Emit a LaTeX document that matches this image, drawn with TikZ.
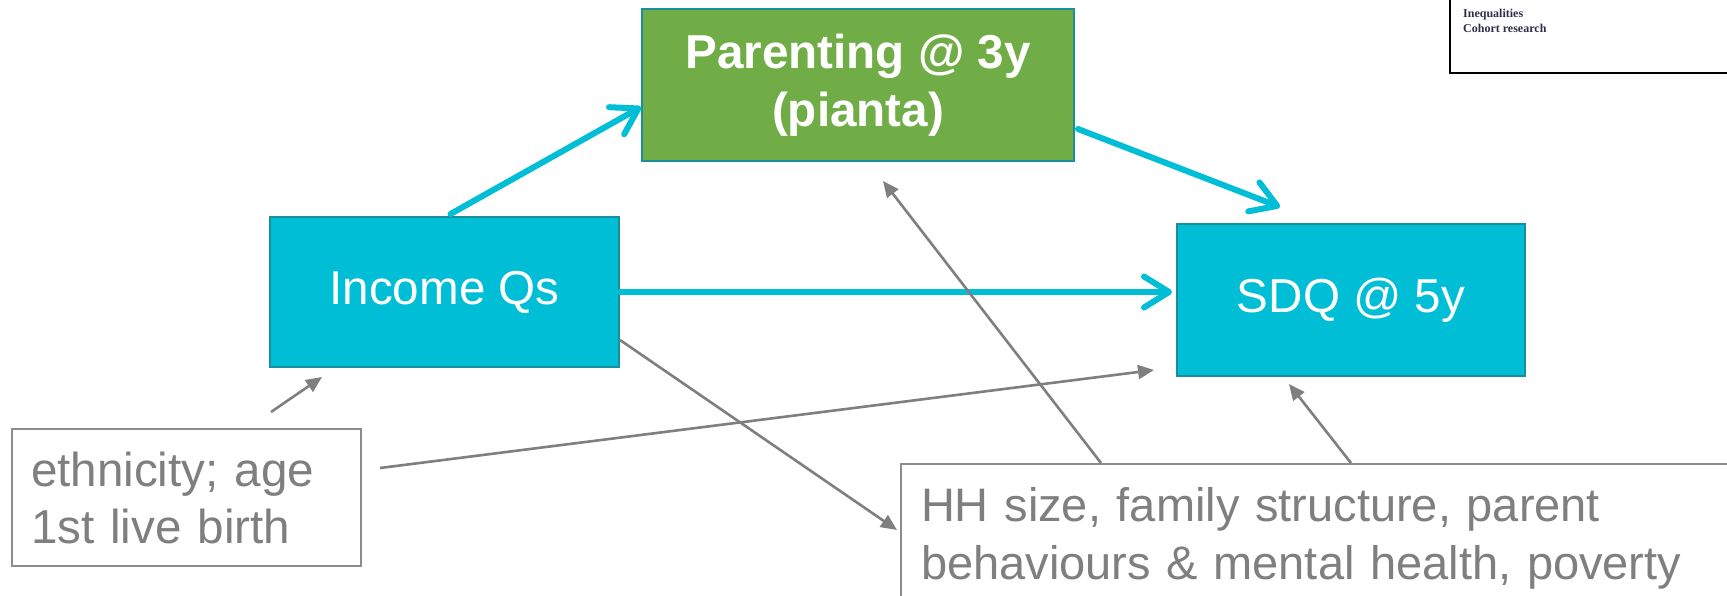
\documentclass[tikz,border=0pt]{standalone}
\usepackage{fontspec}
\setmainfont{Liberation Sans}
\newfontfamily\boxserif{Liberation Serif}
\usetikzlibrary{arrows.meta,calc}
\definecolor{cyfill}{HTML}{00BED5}
\definecolor{cyline}{HTML}{1A8F9C}
\definecolor{grfill}{HTML}{70AD47}
\definecolor{graytxt}{HTML}{7F7F7F}
\definecolor{grayline}{HTML}{8C8C8C}
\definecolor{navytxt}{HTML}{2E2E4A}
\tikzset{
  bigfont/.style={font=\fontsize{47.6}{57}\selectfont},
  mainbox/.style={draw=cyline, line width=2pt, inner sep=0pt, align=center, text=white, bigfont},
  notebox/.style={draw=grayline, line width=2pt, fill=white, inner ysep=0pt, align=left, text=graytxt, bigfont, anchor=north west},
  cyarrow/.style={draw=cyfill, line width=6pt, line cap=round,
    -{Straight Barb[length=25pt,width=31pt,line cap=round,line join=round]}},
  grarrow/.style={draw=graytxt, line width=2.6pt,
    -{Triangle[length=16pt,width=14pt]}}
}
\begin{document}
\begin{tikzpicture}[x=1pt,y=-1pt]
\useasboundingbox (0,0) rectangle (1727,595);
\clip (0,0) rectangle (1727,595);
\fill[white] (0,0) rectangle (1727,595);

% top-right box
\draw[black, line width=2pt] (1450,-10) rectangle (1745,73);
\node[font=\boxserif\bfseries\fontsize{12}{15}\selectfont, text=navytxt, anchor=base west, align=left, inner sep=0pt] (tr) at (1463,32) {Inequalities\\Cohort research};

% main nodes
\node[mainbox, fill=grfill, minimum width=432pt, minimum height=152pt, font=\bfseries\fontsize{47.6}{58}\selectfont] (par) at (858,85) {Parenting @ 3y\\(pianta)};
\node[mainbox, fill=cyfill, minimum width=349pt, minimum height=150pt] (inc) at (444.5,292) {Income Qs};
\node[mainbox, fill=cyfill, minimum width=348pt, minimum height=152pt] (sdq) at (1351,300) {SDQ @ 5y};

% note boxes
\node[notebox, minimum width=349pt, minimum height=137pt, text width=311pt, inner xsep=19pt] (eth) at (11,428) {ethnicity; age\\1st live birth};
\node[notebox, minimum width=860pt, minimum height=148pt, text width=820pt, inner xsep=20pt, font=\fontsize{47}{58}\selectfont] (hh) at (900,463) {HH size, family structure, parent\\behaviours \& mental health, poverty};

% cyan arrows
\draw[cyarrow] ($(inc.north)+(6,-2)$) -- ($(par.north west)+(0,99)$);
\draw[cyarrow] ($(par.north east)+(3,121)$) -- ($(sdq.north)+(-71,-16)$);
\draw[cyarrow] (inc.east) -- ($(sdq.west |- inc.east)+(-4,0)$);

% gray arrows
\coordinate (e1) at (271,412);
\draw[grarrow] (e1) -- ($(inc.south west)+(53,9)$);
\draw[grarrow] ($(eth.north east)+(18,40)$) -- ($(sdq.south west)+(-22,-7)$);
\draw[grarrow] ($(inc.south east)+(0,-28)$) -- ($(hh.north west)+(-3,67)$);
\draw[grarrow] ($(hh.north west)+(201,0)$) -- ($(par.south west)+(242,19)$);
\draw[grarrow] ($(hh.north west)+(451,0)$) -- ($(sdq.south west)+(113,7)$);
\end{tikzpicture}
\end{document}
